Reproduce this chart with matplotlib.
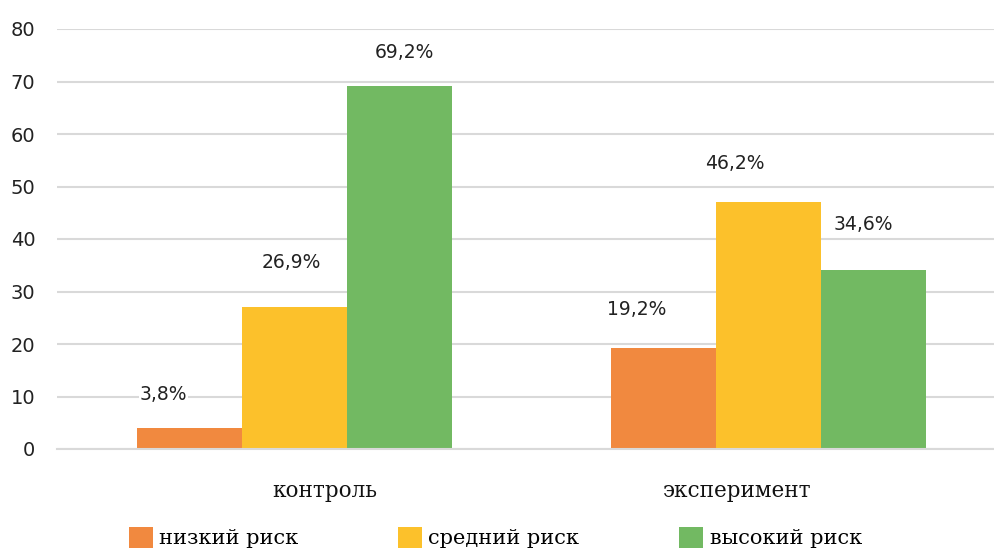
import numpy as np
import matplotlib
matplotlib.use("Agg")
import matplotlib.pyplot as plt
from matplotlib.transforms import ScaledTranslation

# данные
groups = ['контроль', 'эксперимент']
series = ['низкий риск', 'средний риск', 'высокий риск']
heights = {
    'низкий риск': [4.0, 19.2],
    'средний риск': [27.0, 47.0],
    'высокий риск': [69.1, 34.1],
}
bar_labels = {
    'низкий риск': ['3,8%', '19,2%'],
    'средний риск': ['26,9%', '46,2%'],
    'высокий риск': ['69,2%', '34,6%'],
}
yticks = [0, 10, 20, 30, 40, 50, 60, 70, 80]

colors = ['#F1893F', '#FCC12B', '#72B962']
# сдвиги подписей (пиксели): dx от центра столбца, dy над вершиной
label_dx = {'низкий риск': [-26, -27], 'средний риск': [-3, -34], 'высокий риск': [5, -10]}
label_dy = {'низкий риск': [33, 39], 'средний риск': [45, 39], 'высокий риск': [34, 45]}

W, H = 995, 555
fig = plt.figure(figsize=(W / 100, H / 100), dpi=100)
ax = fig.add_axes([57 / W, 1 - 449 / H, (W - 57) / W, 420 / H])

x = np.arange(len(groups))
width = 0.2215
for i, s in enumerate(series):
    pos = x + (i - 1) * width
    ax.bar(pos, heights[s], width, color=colors[i], label=s, zorder=2)
    for j in range(len(groups)):
        ax.annotate(bar_labels[s][j], (pos[j], heights[s][j]),
                    xytext=(label_dx[s][j], label_dy[s][j]), textcoords='offset pixels',
                    ha='center', va='center', fontsize=13.5, color='#222222',
                    family='DejaVu Sans', zorder=3,
                    bbox=dict(facecolor='white', edgecolor='none', pad=0.5))

ax.set_xlim(-0.501, 1.478)
ax.set_ylim(0, 80)
ax.set_yticks(yticks)
ax.yaxis.grid(True, color='#d9d9d9', linewidth=1.5, zorder=0)
ax.set_axisbelow(True)
for sp in ['left', 'right', 'top']:
    ax.spines[sp].set_visible(False)
ax.spines['bottom'].set_color('#d9d9d9')
ax.spines['bottom'].set_linewidth(1.5)
ax.tick_params(axis='y', length=0, pad=15.5, labelsize=14, labelcolor='#222222')
ax.tick_params(axis='x', length=0, pad=22)

ax.set_xticks(x)
ax.set_xticklabels(groups, fontsize=15.5, family='DejaVu Serif', color='#111111')
# подписи категорий в оригинале смещены
shifts = [30, -31]
for lab, dx in zip(ax.get_xticklabels(), shifts):
    lab.set_transform(lab.get_transform() + ScaledTranslation(dx / 100, 0, fig.dpi_scale_trans))

leg = fig.legend(loc='lower left', bbox_to_anchor=(110 / W, -12 / H), ncol=3,
                 frameon=False, prop={'family': 'DejaVu Serif', 'size': 15},
                 handlelength=1.15, handleheight=1.2, handletextpad=0.3,
                 columnspacing=4.8)

fig.savefig('out.png', dpi=100)
